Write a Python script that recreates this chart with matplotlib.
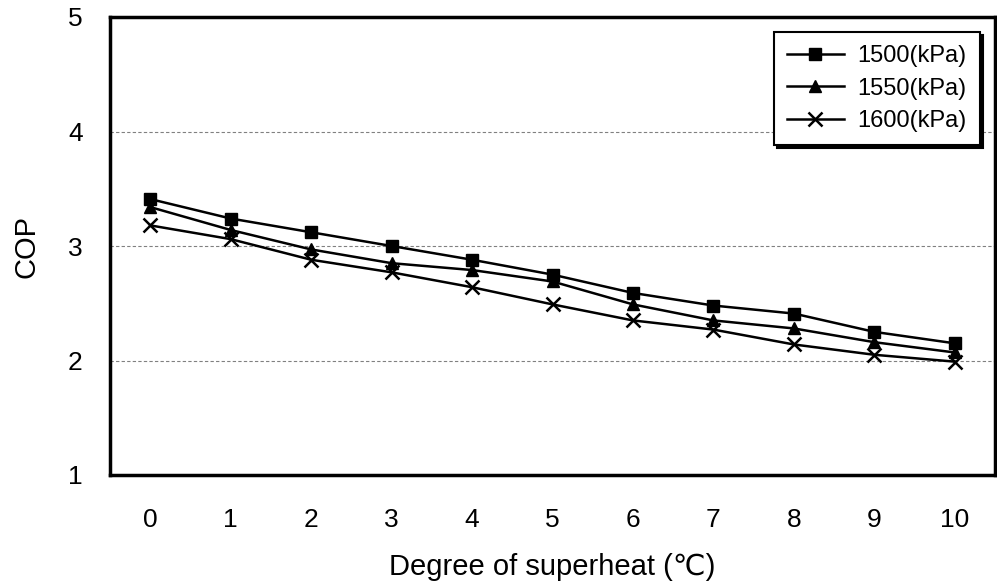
import matplotlib
matplotlib.use("Agg")
import matplotlib.pyplot as plt

# COP vs. degree of superheat for three condensing pressures
superheat = [0, 1, 2, 3, 4, 5, 6, 7, 8, 9, 10]
cop_1500 = [3.41, 3.24, 3.12, 3.00, 2.88, 2.75, 2.59, 2.48, 2.41, 2.25, 2.15]
cop_1550 = [3.34, 3.14, 2.97, 2.85, 2.79, 2.69, 2.49, 2.35, 2.28, 2.16, 2.07]
cop_1600 = [3.18, 3.06, 2.88, 2.77, 2.64, 2.49, 2.35, 2.27, 2.14, 2.05, 1.99]
labels = ["1500(kPa)", "1550(kPa)", "1600(kPa)"]

plt.rcParams['font.family'] = ['Liberation Sans', 'DejaVu Sans']

fig = plt.figure(figsize=(9.97, 5.84), dpi=100)
ax = fig.add_axes([110 / 997, 1 - 475 / 584, 885 / 997, 458 / 584])

ax.plot(superheat, cop_1500, color='black', lw=1.8, marker='s', ms=9, label=labels[0])
ax.plot(superheat, cop_1550, color='black', lw=1.8, marker='^', ms=9, label=labels[1])
ax.plot(superheat, cop_1600, color='black', lw=1.8, marker='x', ms=10, mew=1.8, label=labels[2])

ax.set_xlim(-0.5, 10.5)
ax.set_ylim(1, 5)
ax.set_xticks(superheat)
ax.set_yticks([1, 2, 3, 4, 5])
ax.tick_params(axis='x', length=0, labelsize=19, pad=24)
ax.tick_params(axis='y', length=0, labelsize=19, pad=25)
for lbl in ax.get_yticklabels():
    lbl.set_horizontalalignment('center')

ax.grid(axis='y', color='gray', linestyle=(0, (3, 2)), lw=0.8)
for s in ax.spines.values():
    s.set_linewidth(2.5)

ax.set_xlabel("Degree of superheat (\u2103)", fontsize=21, labelpad=15)
ax.set_ylabel("COP", fontsize=21, labelpad=20)

leg = ax.legend(loc='upper right', bbox_to_anchor=(0.983, 0.967), borderaxespad=0,
                fontsize=17, frameon=True, fancybox=False, edgecolor='black',
                shadow={'color': 'black', 'alpha': 1},
                handlelength=2.4, handletextpad=0.6, borderpad=0.55,
                labelspacing=0.45)
leg.get_frame().set_linewidth(1.5)

fig.savefig("out.png", dpi=100)
